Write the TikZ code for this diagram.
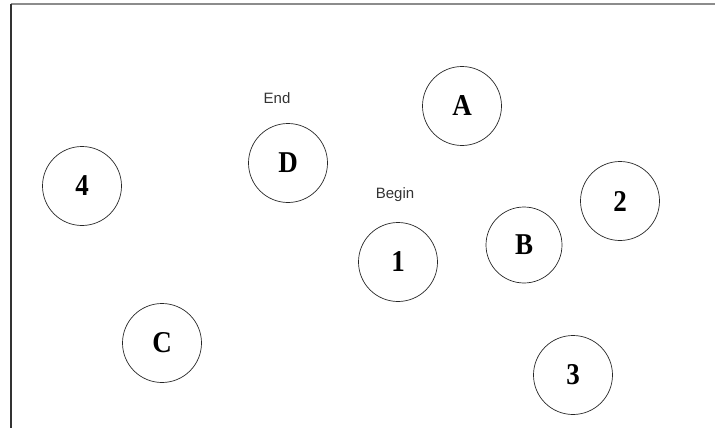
\documentclass[tikz,border=0pt]{standalone}
\usepackage{fontspec}
\usepackage{graphicx}
\setmainfont{Liberation Serif}
\newfontfamily\labelfont{Liberation Sans}
\newcommand{\tallsym}[1]{\scalebox{1}[1.12]{#1}}
\begin{document}
\begin{tikzpicture}[x=1pt,y=-1pt,
  state/.style={draw=black!85, line width=0.7pt, circle, minimum size=79pt, inner sep=0pt,
    font=\fontsize{27}{27}\selectfont\bfseries},
  tag/.style={font=\labelfont\fontsize{15}{15}\selectfont, text=black!80, inner sep=0pt},
  frameline/.style={line width=2pt}]
\useasboundingbox (0,0) rectangle (715,428);
\node[state] (A) at (462,106) {\tallsym{A}};
\node[state] (D) at (288,163) {\tallsym{D}};
\node[state] (n4) at (82,186) {\tallsym{4}};
\node[state] (n2) at (620,201) {\tallsym{2}};
\node[state, minimum size=76pt] (B) at (524,245) {\tallsym{B}};
\node[state] (n1) at (398,262) {\tallsym{1}};
\node[state] (C) at (162,343) {\tallsym{C}};
\node[state] (n3) at (573,375) {\tallsym{3}};
\node[tag] (endlbl) at (277,98) {End};
\node[tag] (beginlbl) at (395,195) {Begin};
\coordinate (fc) at (10.5,4.5);
\coordinate (ftr) at (715,4.5);
\coordinate (fbl) at (10.5,428);
\draw[frameline, black!45] (fc) -- (ftr);
\draw[frameline, black!80] (fc) -- (fbl);
\end{tikzpicture}
\end{document}
